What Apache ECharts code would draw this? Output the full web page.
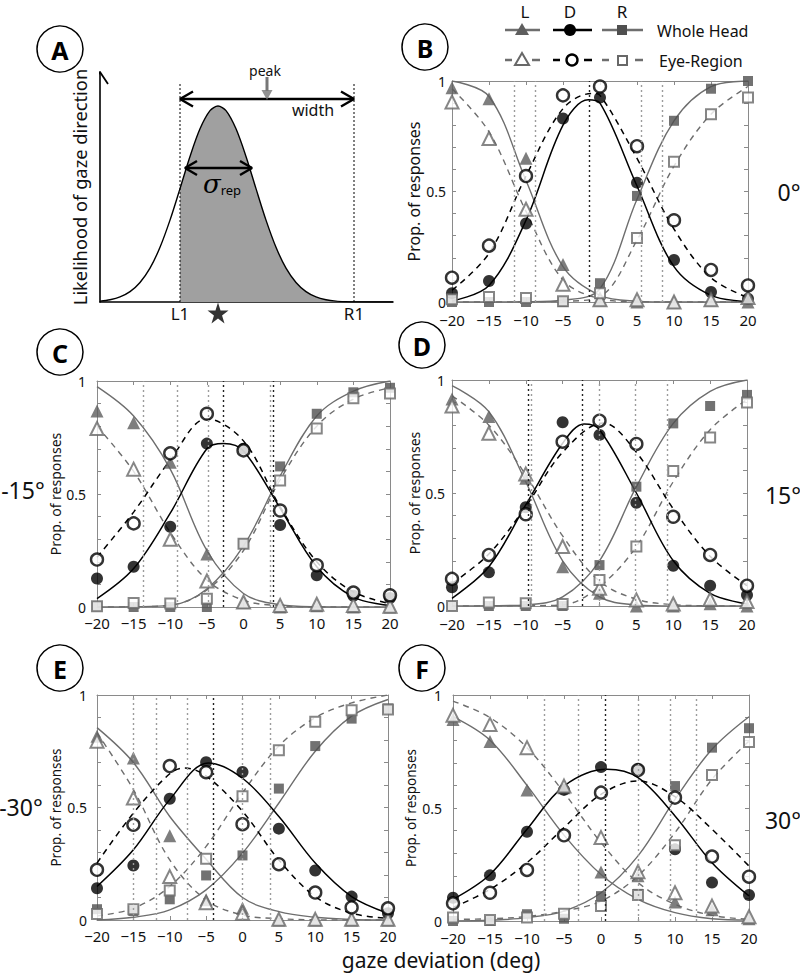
<!DOCTYPE html>
<html><head><meta charset="utf-8">
<script src="https://cdn.jsdelivr.net/npm/echarts@6/dist/echarts.min.js"></script>
<style>html,body{margin:0;padding:0;background:#fff}#c{width:800px;height:974px}</style>
</head><body><div id="c"></div>
<script>
const FONT = 'Noto Sans';
// ---------- shared ticks ----------
const xDeg = [-20, -15, -10, -5, 0, 5, 10, 15, 20];
const yLabelValues = [0, 0.5, 1];

// ---------- Panel A (schematic) ----------
const A_curveX = [0, 10, 20, 30, 40, 50, 60, 70, 80, 90, 100, 110, 118, 126, 136, 146, 156, 166, 176, 186, 196, 206, 216, 226, 236, 246, 256, 293];
const A_curveY = [0.004, 0.010, 0.022, 0.045, 0.085, 0.147, 0.238, 0.356, 0.493, 0.633, 0.753, 0.832, 0.852, 0.832, 0.753, 0.633, 0.493, 0.356, 0.238, 0.147, 0.085, 0.045, 0.022, 0.010, 0.004, 0.0016, 0.0005, 0];
const A_L1 = 80, A_R1 = 254, A_peakX = 167, A_starX = 118;

// ---------- Panel B (0°) ----------
const B_headL = [0.97, 0.92, 0.65, 0.17, 0.01, 0.0, 0.0, 0.01, 0.0];
const B_eyeL  = [0.905, 0.74, 0.42, 0.08, 0.01, 0.01, 0.0, 0.01, 0.02];
const B_headD = [0.04, 0.095, 0.355, 0.83, 0.925, 0.54, 0.19, 0.045, 0.015];
const B_eyeD  = [0.11, 0.255, 0.57, 0.935, 0.975, 0.705, 0.37, 0.145, 0.075];
const B_headR = [0, 0, 0, 0, 0.085, 0.48, 0.82, 0.965, 1.0];
const B_eyeR  = [0.012, 0.023, 0.018, 0.003, 0.04, 0.29, 0.635, 0.85, 0.925];
const B_fitHeadL = [[-20,1.0],[-15,0.93],[-10,0.55],[-5,0.16],[0,0.03],[5,0.004],[10,0],[15,0],[20,0]];
const B_fitEyeL  = [[-20,0.965],[-15,0.77],[-10,0.41],[-5,0.10],[0,0.015],[5,0.001],[10,0],[15,0],[20,0]];
const B_fitHeadD = [[-20,0.005],[-15,0.075],[-10,0.37],[-5,0.8],[-1.6,0.915],[0,0.9],[5,0.525],[10,0.16],[15,0.03],[20,0.003]];
const B_fitEyeD  = [[-20,0.053],[-15,0.22],[-10,0.57],[-5,0.875],[-1,0.944],[0,0.935],[5,0.65],[10,0.33],[15,0.11],[20,0.02]];
const B_fitHeadR = [[-20,0],[-15,0],[-10,0.001],[-5,0.008],[0,0.06],[5,0.465],[10,0.82],[15,0.975],[20,1.0]];
const B_fitEyeR  = [[-20,0],[-15,0],[-10,0],[-5,0.003],[0,0.025],[5,0.28],[10,0.615],[15,0.85],[20,0.975]];
const B_grayBounds = [-11.6, -8.8, 5.6, 8.4];
const B_blackBounds = [-1.5];

// ---------- Panel C (-15°) ----------
const C_headL = [0.867, 0.815, 0.64, 0.234, 0.02, 0.0, 0.005, 0.0, 0.0];
const C_eyeL  = [0.79, 0.61, 0.30, 0.115, 0.022, 0.007, 0.012, 0.007, 0.003];
const C_headD = [0.126, 0.178, 0.355, 0.723, 0.70, 0.363, 0.14, 0.05, 0.04];
const C_eyeD  = [0.21, 0.37, 0.68, 0.855, 0.693, 0.427, 0.185, 0.064, 0.052];
const C_headR = [0.003, 0, 0, 0, 0.28, 0.622, 0.855, 0.95, 0.97];
const C_eyeR  = [0.003, 0.018, 0.015, 0.037, 0.28, 0.56, 0.79, 0.924, 0.945];
const C_fitHeadL = [[-20,0.975],[-15,0.845],[-10,0.61],[-5,0.25],[0,0.06],[5,0.01],[10,0.001],[15,0],[20,0]];
const C_fitEyeL  = [[-20,0.8],[-15,0.6],[-10,0.33],[-5,0.12],[0,0.03],[5,0.005],[10,0],[15,0],[20,0]];
const C_fitHeadD = [[-20,0.037],[-15,0.17],[-10,0.415],[-5,0.70],[-2.7,0.723],[0,0.69],[5,0.437],[10,0.178],[15,0.044],[20,0.007]];
const C_fitEyeD  = [[-20,0.22],[-15,0.42],[-10,0.65],[-5,0.833],[0,0.735],[5,0.444],[10,0.2],[15,0.067],[20,0.015]];
const C_fitHeadR = [[-20,0],[-15,0.001],[-10,0.007],[-5,0.08],[0,0.27],[5,0.58],[10,0.845],[15,0.955],[20,1.0]];
const C_fitEyeR  = [[-20,0],[-15,0.001],[-10,0.008],[-5,0.075],[0,0.25],[5,0.563],[10,0.8],[15,0.92],[20,0.97]];
const C_grayBounds = [-13.7, -9.0, -4.8, 3.6];
const C_blackBounds = [-2.75, 4.0];

// ---------- Panel D (15°) ----------
const D_headL = [0.916, 0.838, 0.565, 0.174, 0.056, 0.0, 0.0, 0.01, 0.0];
const D_eyeL  = [0.885, 0.764, 0.584, 0.263, 0.078, 0.027, 0.009, 0.03, 0.02];
const D_headD = [0.083, 0.149, 0.437, 0.813, 0.757, 0.457, 0.178, 0.09, 0.049];
const D_eyeD  = [0.12, 0.226, 0.406, 0.727, 0.82, 0.717, 0.395, 0.226, 0.09];
const D_headR = [0, 0, 0, 0, 0.181, 0.528, 0.808, 0.885, 0.934];
const D_eyeR  = [0, 0.015, 0.012, 0.009, 0.115, 0.263, 0.597, 0.746, 0.9];
const D_fitHeadL = [[-20,0.975],[-15,0.86],[-10,0.55],[-5,0.2],[0,0.04],[5,0.005],[10,0],[15,0],[20,0]];
const D_fitEyeL  = [[-20,0.93],[-15,0.8],[-10,0.58],[-5,0.31],[0,0.11],[5,0.03],[10,0.006],[15,0.001],[20,0]];
const D_fitHeadD = [[-20,0.034],[-15,0.174],[-10,0.447],[-5,0.72],[-2.1,0.805],[0,0.78],[5,0.5],[10,0.2],[15,0.056],[20,0.009]];
const D_fitEyeD  = [[-20,0.1],[-15,0.23],[-10,0.44],[-5,0.68],[0.5,0.81],[5,0.68],[10,0.43],[15,0.22],[20,0.09]];
const D_fitHeadR = [[-20,0],[-15,0.001],[-10,0.005],[-5,0.04],[0,0.2],[5,0.528],[10,0.808],[15,0.95],[20,1.0]];
const D_fitEyeR  = [[-20,0],[-15,0],[-10,0.001],[-5,0.005],[0,0.086],[5,0.263],[10,0.55],[15,0.78],[20,0.914]];
const D_grayBounds = [-9.3, 0, 4.9, 9.2];
const D_blackBounds = [-9.7, -2.4];

// ---------- Panel E (-30°) ----------
const E_headL = [0.817, 0.72, 0.374, 0.09, 0.052, 0.0, 0.0, 0.0, 0.0];
const E_eyeL  = [0.795, 0.542, 0.193, 0.077, 0.03, 0.003, 0.003, 0.003, 0.003];
const E_headD = [0.141, 0.242, 0.539, 0.701, 0.658, 0.406, 0.22, 0.104, 0.03];
const E_eyeD  = [0.223, 0.423, 0.684, 0.657, 0.426, 0.248, 0.122, 0.056, 0.052];
const E_headR = [0.048, 0.04, 0.092, 0.198, 0.287, 0.584, 0.773, 0.895, 0.94];
const E_eyeR  = [0.027, 0.048, 0.131, 0.272, 0.55, 0.755, 0.881, 0.932, 0.936];
const E_fitHeadL = [[-20,0.855],[-15,0.7],[-10,0.46],[-5,0.27],[0,0.1],[5,0.037],[10,0.012],[15,0.003],[20,0]];
const E_fitEyeL  = [[-20,0.832],[-15,0.58],[-10,0.267],[-5,0.089],[0,0.022],[5,0.006],[10,0.001],[15,0],[20,0]];
const E_fitHeadD = [[-20,0.149],[-15,0.312],[-10,0.535],[-4.7,0.698],[0,0.63],[5,0.46],[10,0.253],[15,0.104],[20,0.03]];
const E_fitEyeD  = [[-20,0.253],[-15,0.475],[-10,0.65],[-8,0.676],[-5,0.64],[0,0.483],[5,0.267],[10,0.104],[15,0.03],[20,0.007]];
const E_fitHeadR = [[-20,0],[-15,0.012],[-10,0.045],[-5,0.134],[0,0.297],[5,0.52],[10,0.75],[15,0.906],[20,0.98]];
const E_fitEyeR  = [[-20,0.018],[-15,0.052],[-10,0.149],[-5,0.327],[0,0.565],[5,0.773],[10,0.899],[15,0.965],[20,1.0]];
const E_grayBounds = [-15.0, -11.8, -7.6, -0.1, 3.8];
const E_blackBounds = [-4.0];

// ---------- Panel F (30°) ----------
const F_headL = [0.892, 0.794, 0.58, 0.59, 0.217, 0.2, 0.084, 0.05, 0.01];
const F_eyeL  = [0.91, 0.87, 0.767, 0.597, 0.369, 0.218, 0.125, 0.066, 0.019];
const F_headD = [0.103, 0.202, 0.395, 0.58, 0.681, 0.671, 0.317, 0.17, 0.115];
const F_eyeD  = [0.078, 0.125, 0.226, 0.379, 0.568, 0.668, 0.546, 0.285, 0.196];
const F_headR = [0, 0, 0.03, 0.01, 0.11, 0.12, 0.597, 0.767, 0.853];
const F_eyeR  = [0.015, 0.004, 0.015, 0.032, 0.066, 0.115, 0.335, 0.646, 0.792];
const F_fitHeadL = [[-20,0.904],[-15,0.8],[-10,0.6],[-5,0.38],[0,0.206],[5,0.096],[10,0.037],[15,0.01],[20,0.004]];
const F_fitEyeL  = [[-20,0.973],[-15,0.9],[-10,0.767],[-5,0.568],[0,0.347],[5,0.17],[10,0.074],[15,0.025],[20,0.007]];
const F_fitHeadD = [[-20,0.096],[-15,0.206],[-10,0.406],[-5,0.597],[0.8,0.671],[5,0.634],[10,0.465],[15,0.258],[20,0.111]];
const F_fitEyeD  = [[-20,0.059],[-15,0.14],[-10,0.258],[-5,0.413],[0,0.56],[5,0.62],[10,0.55],[15,0.406],[20,0.243]];
const F_fitHeadR = [[-20,0],[-15,0.003],[-10,0.015],[-5,0.044],[0,0.125],[5,0.288],[10,0.538],[15,0.76],[20,0.904]];
const F_fitEyeR  = [[-20,0.007],[-15,0.01],[-10,0.02],[-5,0.044],[0,0.088],[5,0.2],[10,0.391],[15,0.627],[20,0.796]];
const F_grayBounds = [-7.7, -3.1, 5.0, 9.3, 12.9];
const F_blackBounds = [0.6];

// ---------- styles ----------
const AX = '#8a8a8a';
const GRAY_LINE = '#6e6e6e';
const GRAY_MARK = '#5e5e5e';
const GRAY_OPEN = '#686868';
const DASH = [6, 5];

const panels = [
  {grid:{left:452, top:81, width:296, height:221}, xm:10, ym:6, nameGap:28, nameSize:16,
   hL:B_headL, eL:B_eyeL, hD:B_headD, eD:B_eyeD, hR:B_headR, eR:B_eyeR,
   fHL:B_fitHeadL, fEL:B_fitEyeL, fHD:B_fitHeadD, fED:B_fitEyeD, fHR:B_fitHeadR, fER:B_fitEyeR, gb:B_grayBounds, bb:B_blackBounds},
  {grid:{left:97, top:381, width:293, height:226}, xm:8, ym:11, nameGap:33, nameSize:14,
   hL:C_headL, eL:C_eyeL, hD:C_headD, eD:C_eyeD, hR:C_headR, eR:C_eyeR,
   fHL:C_fitHeadL, fEL:C_fitEyeL, fHD:C_fitHeadD, fED:C_fitEyeD, fHR:C_fitHeadR, fER:C_fitEyeR, gb:C_grayBounds, bb:C_blackBounds},
  {grid:{left:452, top:380, width:295, height:226}, xm:10, ym:7, nameGap:26, nameSize:14,
   hL:D_headL, eL:D_eyeL, hD:D_headD, eD:D_eyeD, hR:D_headR, eR:D_eyeR,
   fHL:D_fitHeadL, fEL:D_fitEyeL, fHD:D_fitHeadD, fED:D_fitEyeD, fHR:D_fitHeadR, fER:D_fitEyeR, gb:D_grayBounds, bb:D_blackBounds},
  {grid:{left:97, top:695, width:291, height:225}, xm:8, ym:10, nameGap:33, nameSize:13.5,
   hL:E_headL, eL:E_eyeL, hD:E_headD, eD:E_eyeD, hR:E_headR, eR:E_eyeR,
   fHL:E_fitHeadL, fEL:E_fitEyeL, fHD:E_fitHeadD, fED:E_fitEyeD, fHR:E_fitHeadR, fER:E_fitEyeR, gb:E_grayBounds, bb:E_blackBounds},
  {grid:{left:453, top:695, width:296, height:226}, xm:9, ym:11, nameGap:31, nameSize:13.5,
   hL:F_headL, eL:F_eyeL, hD:F_headD, eD:F_eyeD, hR:F_headR, eR:F_eyeR,
   fHL:F_fitHeadL, fEL:F_fitEyeL, fHD:F_fitHeadD, fED:F_fitEyeD, fHR:F_fitHeadR, fER:F_fitEyeR, gb:F_grayBounds, bb:F_blackBounds}
];

const grids = [], xAxes = [], yAxes = [], series = [];

function fmtX(v){ return v < 0 ? '\u2212' + Math.abs(v) : String(v); }
function fmtY(v){
  for (const t of yLabelValues) if (Math.abs(v - t) < 1e-6) return String(t);
  return '';
}
function pts(arr){ return xDeg.map((x, i) => [x, arr[i]]); }

panels.forEach((p, gi) => {
  grids.push(p.grid);
  const xi = xAxes.length;
  xAxes.push({gridIndex:gi, type:'value', min:-20, max:20, interval:5,
    axisLine:{onZero:false, lineStyle:{color:AX, width:1}},
    axisTick:{inside:true, length:4, lineStyle:{color:AX}},
    axisLabel:{color:'#111', fontSize:15, fontFamily:FONT, margin:p.xm, formatter:fmtX},
    splitLine:{show:false}});
  xAxes.push({gridIndex:gi, type:'value', position:'top', min:-20, max:20, interval:5,
    axisLine:{onZero:false, lineStyle:{color:AX, width:1}},
    axisTick:{inside:true, length:4, lineStyle:{color:AX}},
    axisLabel:{show:false}, splitLine:{show:false}});
  const yi = yAxes.length;
  yAxes.push({gridIndex:gi, type:'value', min:0, max:1, interval:0.1,
    axisLine:{show:true, onZero:false, lineStyle:{color:AX, width:1}},
    axisTick:{show:true, inside:true, length:4, lineStyle:{color:AX}},
    axisLabel:{color:'#111', fontSize:14, fontFamily:FONT, margin:p.ym, formatter:fmtY, showMinLabel:true, showMaxLabel:true},
    splitLine:{show:false},
    name:'Prop. of responses', nameLocation:'middle', nameGap:p.nameGap,
    nameTextStyle:{fontSize:p.nameSize, fontFamily:FONT, color:'#111'}});
  yAxes.push({gridIndex:gi, type:'value', position:'right', min:0, max:1, interval:0.1,
    axisLine:{show:true, onZero:false, lineStyle:{color:AX, width:1}},
    axisTick:{show:true, inside:true, length:4, lineStyle:{color:AX}},
    axisLabel:{show:false}, splitLine:{show:false}});

  const base = {xAxisIndex:xi, yAxisIndex:yi, animation:false, silent:true};
  series.push(Object.assign({}, base, {type:'line', data:[], z:1,
    markLine:{silent:true, symbol:'none', label:{show:false}, animation:false,
      data: p.gb.map(v => ({xAxis:v, lineStyle:{color:'#9c9c9c', type:[2,3], width:1.4}}))
        .concat(p.bb.map(v => ({xAxis:v, lineStyle:{color:'#222', type:[2,3], width:1.4}})))}}));
  const fit = (data, color, dashed, w) => Object.assign({}, base, {type:'line', data, smooth:0.35, showSymbol:false, z:2,
    lineStyle:{color, width:w, type: dashed ? DASH : 'solid'}});
  series.push(fit(p.fHL, GRAY_LINE, false, 1.4));
  series.push(fit(p.fEL, GRAY_LINE, true, 1.4));
  series.push(fit(p.fHR, GRAY_LINE, false, 1.4));
  series.push(fit(p.fER, GRAY_LINE, true, 1.4));
  series.push(fit(p.fHD, '#000', false, 1.5));
  series.push(fit(p.fED, '#000', true, 1.5));
  const sc = (arr, symbol, size, item, z) => Object.assign({}, base, {type:'scatter', data:pts(arr), symbol, symbolSize:size, itemStyle:item, clip:false, z});
  series.push(sc(p.hL, 'triangle', 13, {color:GRAY_MARK}, 3));
  series.push(sc(p.hR, 'rect', 10, {color:'#4f4f4f'}, 3));
  series.push(sc(p.hD, 'circle', 12, {color:'#000'}, 3));
  series.push(sc(p.eL, 'triangle', 13, {color:'#fff', borderColor:GRAY_OPEN, borderWidth:2}, 4));
  series.push(sc(p.eR, 'rect', 10, {color:'#fff', borderColor:GRAY_OPEN, borderWidth:2}, 4));
  series.push(sc(p.eD, 'circle', 12, {color:'#fff', borderColor:'#000', borderWidth:2.4}, 4));
});

// ---------- Panel A ----------
const aGi = grids.length;
grids.push({left:100, top:72, width:293, height:230});
const axi = xAxes.length;
xAxes.push({gridIndex:aGi, type:'value', min:0, max:293,
  axisLine:{onZero:false, lineStyle:{color:'#000', width:1.6}}, axisTick:{show:false}, axisLabel:{show:false}, splitLine:{show:false}});
const ayi = yAxes.length;
yAxes.push({gridIndex:aGi, type:'value', min:0, max:1,
  axisLine:{show:true, onZero:false, lineStyle:{color:'#000', width:1.6}}, axisTick:{show:false}, axisLabel:{show:false}, splitLine:{show:false},
  name:'Likelihood of gaze direction', nameLocation:'middle', nameGap:12,
  nameTextStyle:{fontSize:18.3, fontFamily:FONT, color:'#111'}});
const aBase = {xAxisIndex:axi, yAxisIndex:ayi, animation:false, silent:true, showSymbol:false};
const curve = A_curveX.map((x, i) => [x, A_curveY[i]]);
const shaded = curve.filter(d => d[0] >= A_L1);
series.push(Object.assign({}, aBase, {type:'line', data:shaded, smooth:0.3, lineStyle:{width:0}, areaStyle:{color:'#a0a0a0', opacity:1}, z:1}));
series.push(Object.assign({}, aBase, {type:'line', data:curve, smooth:0.3, lineStyle:{color:'#000', width:1.4}, z:2}));
const yPx = 1/230;
function seg(data, color, width, type){
  series.push(Object.assign({}, aBase, {type:'line', data, clip:false, lineStyle:{color, width, type:type||'solid'}, z:3}));
}
seg([[A_L1,0],[A_L1,220*yPx]], '#000', 1, [2,2]);
seg([[A_R1,0],[A_R1,220*yPx]], '#000', 1, [2,2]);
seg([[-8, 1-12*yPx],[0,1],[8, 1-12*yPx]], '#000', 1.8);
const wy = 203*yPx;
seg([[A_L1, wy],[A_R1, wy]], '#000', 2.4);
seg([[A_L1+13, wy+7.5*yPx],[A_L1, wy],[A_L1+13, wy-7.5*yPx]], '#000', 2.4);
seg([[A_R1-13, wy+7.5*yPx],[A_R1, wy],[A_R1-13, wy-7.5*yPx]], '#000', 2.4);
const sy = 134*yPx, sx1 = 85, sx2 = 152;
seg([[sx1, sy],[sx2, sy]], '#000', 2.4);
seg([[sx1+12, sy+7*yPx],[sx1, sy],[sx1+12, sy-7*yPx]], '#000', 2.4);
seg([[sx2-12, sy+7*yPx],[sx2, sy],[sx2-12, sy-7*yPx]], '#000', 2.4);
seg([[A_peakX, 225*yPx],[A_peakX, 211*yPx]], '#777', 3);
series.push(Object.assign({}, aBase, {type:'scatter', data:[[A_peakX, 207*yPx]], symbol:'triangle', symbolRotate:180, symbolSize:[11,10], itemStyle:{color:'#777'}, clip:false, z:4}));
series.push(Object.assign({}, aBase, {type:'scatter', data:[[A_starX, -11*yPx]], clip:false, z:4,
  symbol:'path://M50,0 L61.8,35.3 L98.9,35.3 L68.9,57.1 L80.3,92.4 L50,70.6 L19.7,92.4 L31.1,57.1 L1.1,35.3 L38.2,35.3 Z',
  symbolSize:21, itemStyle:{color:'#000'}}));

// ---------- graphics: labels, legend ----------
const g = [];
function txt(x, y, text, size, opts){
  g.push(Object.assign({type:'text', x, y, silent:true, z:100,
    style:Object.assign({text, fontSize:size, fontFamily:FONT, fill:'#111', align:'center', verticalAlign:'middle'}, (opts&&opts.style)||{})},
    (opts&&opts.el)||{}));
}
[['A',60,49],['B',425,47],['C',60,352],['D',422,345],['E',60,668],['F',422,668]].forEach(([L,cx,cy]) => {
  g.push({type:'circle', shape:{cx, cy, r:23}, style:{fill:'#fff', stroke:'#000', lineWidth:1.5}, z:99, silent:true});
  txt(cx, cy+1, L, 25, {style:{fontWeight:'bold', fill:'#000'}});
});
txt(789, 192, '0°', 23);
txt(23, 490, '-15°', 23);
txt(783, 495, '15°', 23);
txt(21, 807, '-30°', 23);
txt(783, 820, '30°', 23);
txt(441, 960, 'gaze deviation (deg)', 21);
txt(265, 70, 'peak', 14);
txt(313, 110, 'width', 16);
txt(180, 313, 'L1', 17);
txt(354, 313, 'R1', 17);
txt(222, 184, '{s|σ}{r|rep}', 24, {style:{rich:{s:{fontSize:26, fontStyle:'italic', fontFamily:'DejaVu Serif', fill:'#000'}, r:{fontSize:13, fontFamily:FONT, fill:'#000', padding:[12,0,0,0]}}}});
txt(525, 11, 'L', 17); txt(570, 11, 'D', 17); txt(622, 11, 'R', 17);
function gline(x1, y1, x2, y2, color, w){ g.push({type:'line', shape:{x1,y1,x2,y2}, style:{stroke:color, lineWidth:w}, silent:true, z:100}); }
gline(505, 30, 540, 30, GRAY_LINE, 2.5);
gline(553, 30, 592, 30, '#000', 2.5);
gline(602, 30, 643, 30, GRAY_LINE, 2.5);
g.push({type:'polygon', shape:{points:[[522,23],[529,35],[515,35]]}, style:{fill:GRAY_MARK}, z:101, silent:true});
g.push({type:'circle', shape:{cx:570, cy:30, r:6}, style:{fill:'#000'}, z:101, silent:true});
g.push({type:'rect', shape:{x:617, y:25, width:10, height:10}, style:{fill:'#4f4f4f'}, z:101, silent:true});
txt(657, 31, 'Whole Head', 16, {style:{align:'left'}});
[[505,512],[532,540]].forEach(([a,b]) => gline(a,60,b,60,GRAY_LINE,2.5));
[[553,560],[584,592]].forEach(([a,b]) => gline(a,60,b,60,'#000',2.5));
[[602,609],[635,643]].forEach(([a,b]) => gline(a,60,b,60,GRAY_LINE,2.5));
g.push({type:'polygon', shape:{points:[[522,53],[529,65],[515,65]]}, style:{fill:'#fff', stroke:GRAY_OPEN, lineWidth:2}, z:101, silent:true});
g.push({type:'circle', shape:{cx:572, cy:60, r:5.5}, style:{fill:'#fff', stroke:'#000', lineWidth:2.4}, z:101, silent:true});
g.push({type:'rect', shape:{x:618, y:56, width:9, height:9}, style:{fill:'#fff', stroke:GRAY_OPEN, lineWidth:2}, z:101, silent:true});
txt(659, 61, 'Eye-Region', 16, {style:{align:'left'}});

const chart = echarts.init(document.getElementById('c'), null, {renderer:'svg', width:800, height:974});
chart.setOption({
  animation:false,
  backgroundColor:'#fff',
  textStyle:{fontFamily:FONT},
  grid:grids, xAxis:xAxes, yAxis:yAxes, series, graphic:g
});
</script></body></html>
